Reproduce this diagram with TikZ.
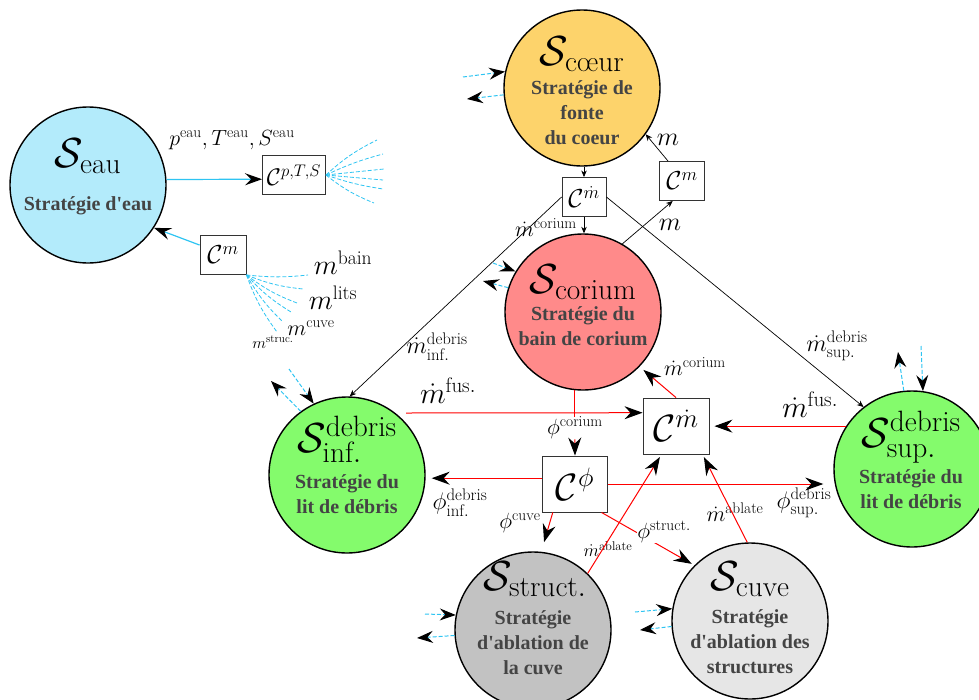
\RequirePackage{fix-cm}
\documentclass[tikz,border=0pt]{standalone}
\usepackage{amsmath}
\usepackage{fontspec}
\newfontfamily\stratfont{Liberation Serif}
\usetikzlibrary{arrows.meta}
\definecolor{ceau}{HTML}{B3EBFB}
\definecolor{ccoeur}{HTML}{FDD36B}
\definecolor{ccorium}{HTML}{FF8A8A}
\definecolor{cdeb}{HTML}{84FB6C}
\definecolor{cstruct}{HTML}{C2C2C2}
\definecolor{ccuve}{HTML}{E6E6E6}
\definecolor{stratgray}{HTML}{444444}
\definecolor{boxgray}{HTML}{333333}
\definecolor{cyanl}{HTML}{2EC4F2}
\newcommand\fsz[1]{\fontsize{#1}{#1}\selectfont}
\begin{document}
\begin{tikzpicture}[x=1pt,y=-1pt,
  strategy/.style={circle,draw=black,line width=1.4pt,minimum size=156pt,inner sep=0pt},
  title/.style={inner sep=0pt,anchor=base,font=\fsz{42}},
  strat/.style={inner sep=0pt,anchor=base,align=center,text=stratgray,font=\stratfont\bfseries\fontsize{20}{25}\selectfont},
  cbox/.style={draw=boxgray,line width=0.9pt,fill=white,inner sep=0pt},
  lab/.style={inner sep=1pt},
  redline/.style={draw=red,line width=1pt},
  redarrow/.style={draw=red,line width=1pt,-{Stealth[length=18pt,width=13pt,inset=6pt,black]}},
  thinarrow/.style={draw=black,line width=0.7pt,-{Stealth[length=6.5pt,width=5.5pt,inset=2pt]}},
  cyanio/.style={draw=cyanl,line width=1pt,dash pattern=on 4pt off 2pt,-{Stealth[length=16pt,width=12pt,inset=5.5pt,black]}},
  cyanfan/.style={draw=cyanl,line width=0.8pt,dash pattern=on 4pt off 2pt},
  cyansolid/.style={draw=cyanl,line width=1.2pt,-{Stealth[length=17pt,width=12pt,inset=6pt,black]}},
]
\useasboundingbox (0,0) rectangle (979,699);

% strategy circles
\node[strategy,fill=ceau] (eau) at (88,185) {};
\node[strategy,fill=ccoeur] (coeur) at (582,88) {};
\node[strategy,fill=ccorium] (corium) at (583,312) {};
\node[strategy,fill=cdeb] (dinf) at (347,475) {};
\node[strategy,fill=cdeb] (dsup) at (912,469) {};
\node[strategy,fill=cstruct] (struct) at (533,630) {};
\node[strategy,fill=ccuve] (cuve) at (750,621) {};

% titles
\node[title] (eauT) at (88,167) {$\mathcal{S}_{\mathrm{eau}}$};
\node[title] (coeurT) at (582,65) {$\mathcal{S}_{\text{c\oe ur}}$};
\node[title] (coriumT) at (583,293) {$\mathcal{S}_{\mathrm{corium}}$};
\node[title] (dinfT) at (347,452) {$\mathcal{S}^{\mathrm{debris}}_{\mathrm{inf.}}$};
\node[title] (dsupT) at (911,447) {$\mathcal{S}^{\mathrm{debris}}_{\mathrm{sup.}}$};
\node[title] (structT) at (535,590) {$\mathcal{S}_{\mathrm{struct.}}$};
\node[title] (cuveT) at (750,590) {$\mathcal{S}_{\mathrm{cuve}}$};

% strategy texts (anchor = baseline of last line)
\node[strat] (eauS) at (88,210) {Stratégie d'eau};
\node[strat] (coeurS) at (582,144) {Stratégie de\\fonte\\du coeur};
\node[strat] (coriumS) at (583,345) {Stratégie du\\bain de corium};
\node[strat] (dinfS) at (347,513) {Stratégie du\\lit de débris};
\node[strat] (dsupS) at (911,508) {Stratégie du\\lit de débris};
\node[strat] (structS) at (533,674) {Stratégie\\d'ablation de\\la cuve};
\node[strat] (cuveS) at (750,673) {Stratégie\\d'ablation des\\structures};

% boxes
\node[cbox,minimum width=63pt,minimum height=39pt] (cpts) at (294,175) {\fsz{24}$\mathcal{C}^{p,T,S}$};
\node[cbox,minimum width=46pt,minimum height=39pt] (cm1) at (223,255) {\fsz{26}$\mathcal{C}^{m}$};
\node[cbox,minimum width=44pt,minimum height=39pt] (cmt) at (584,197) {\fsz{26}$\mathcal{C}^{\dot m}$};
\node[cbox,minimum width=45pt,minimum height=39pt] (cm2) at (682,181) {\fsz{26}$\mathcal{C}^{m}$};
\node[cbox,minimum width=66pt,minimum height=56pt] (cbig) at (676,426) {\fsz{38}$\mathcal{C}^{\dot m}$};
\node[cbox,minimum width=65pt,minimum height=56pt] (cphi) at (575,484) {\fsz{38}$\mathcal{C}^{\phi}$};

% water connections
\draw[cyansolid] (eau.4.4) -- ([yshift=0.3pt]eau.4.4 -| cpts.west);
\draw[cyansolid] (cm1.157) -- (eau.-33);
\coordinate (fr1) at (377,140);
\coordinate (fr2) at (383,154);
\coordinate (fr3) at (384,169);
\coordinate (fr4) at (383,180);
\coordinate (fr5) at (383,189);
\coordinate (fr6) at (374,203);
\draw[cyanfan] (cpts.east) to[bend left=8] (fr1);
\draw[cyanfan] (cpts.east) to[bend left=5] (fr2);
\draw[cyanfan] (cpts.east) -- (fr3);
\draw[cyanfan] (cpts.east) -- (fr4);
\draw[cyanfan] (cpts.east) to[bend right=5] (fr5);
\draw[cyanfan] (cpts.east) to[bend right=8] (fr6);
\coordinate (fl1) at (308,275);
\coordinate (fl2) at (303,289);
\coordinate (fl3) at (297,303);
\coordinate (fl4) at (291,312);
\coordinate (fl5) at (283,322);
\coordinate (fl6) at (277,332);
\draw[cyanfan] (cm1.south east) to[bend right=6] (fl1);
\draw[cyanfan] (cm1.south east) to[bend right=8] (fl2);
\draw[cyanfan] (cm1.south east) to[bend right=8] (fl3);
\draw[cyanfan] (cm1.south east) to[bend right=8] (fl4);
\draw[cyanfan] (cm1.south east) to[bend right=8] (fl5);
\draw[cyanfan] (cm1.south east) to[bend right=8] (fl6);

% cyan in/out arrows
\coordinate (coeurIn) at (463,77);  \coordinate (coeurOut) at (467,99);
\coordinate (corIn) at (493,263);   \coordinate (corOut) at (483,281);
\coordinate (dinfIn) at (289,369);  \coordinate (dinfOut) at (271,381);
\coordinate (dsupIn) at (921,346);  \coordinate (dsupOut) at (898,352);
\coordinate (strIn) at (425,614);   \coordinate (strOut) at (417,638);
\coordinate (cuvIn) at (635,612);   \coordinate (cuvOut) at (640,630);
\draw[cyanio] (coeurIn) -- (coeur.168);
\draw[cyanio] (coeur.185) -- (coeurOut);
\draw[cyanio] (corIn) -- (corium.149);
\draw[cyanio] (corium.162) -- (corOut);
\draw[cyanio] (dinfIn) -- (dinf.115);
\draw[cyanio] (dinf.126) -- (dinfOut);
\draw[cyanio] (dsupIn) -- (dsup.82);
\draw[cyanio] (dsup.96) -- (dsupOut);
\draw[cyanio] (strIn) -- (struct.169);
\draw[cyanio] (struct.184) -- (strOut);
\draw[cyanio] (cuvIn) -- (cuve.171);
\draw[cyanio] (cuve.184) -- (cuvOut);

% black mass connections
\draw[thinarrow] (cmt.north |- coeur.south) -- (cmt.north);
\draw[thinarrow] (cmt.south) -- (cmt.south |- corium.north);
\draw[thinarrow] (cmt.west) -- (dinf.88);
\draw[thinarrow] (cmt.east) -- (dsup.128);
\draw[thinarrow] (cm2.125) -- (coeur.-36);
\draw[thinarrow] (corium.60) -- (cm2.-115);

% labels
\node[lab,font=\fsz{22}] (lpts) at (232,140) {$p^{\mathrm{eau}},T^{\mathrm{eau}},S^{\mathrm{eau}}$};
\node[lab,font=\fsz{28}] (lbain) at (343,263) {$m^{\mathrm{bain}}$};
\node[lab,font=\fsz{28}] (llits) at (333,298) {$m^{\mathrm{lits}}$};
\node[lab,font=\fsz{22}] (lcuve) at (311,328) {$m^{\mathrm{cuve}}$};
\node[lab,font=\fsz{16}] (lstruc) at (273,342) {$m^{\mathrm{struc.}}$};
\node[lab,font=\fsz{22}] (lmcor1) at (546,228) {$\dot m^{\mathrm{corium}}$};
\node[lab,font=\fsz{26}] (lm1) at (668,140) {$m$};
\node[lab,font=\fsz{26}] (lm2) at (670,225) {$m$};
\node[lab,font=\fsz{24}] (ldinf) at (437,347) {$\dot m^{\mathrm{debris}}_{\mathrm{inf.}}$};
\node[lab,font=\fsz{24}] (ldsup) at (837,346) {$\dot m^{\mathrm{debris}}_{\mathrm{sup.}}$};
\node[lab,font=\fsz{30}] (lfus1) at (448,391) {$\dot m^{\mathrm{fus.}}$};
\node[lab,font=\fsz{30}] (lfus2) at (810,405) {$\dot m^{\mathrm{fus.}}$};
\node[lab,font=\fsz{22}] (lmcor2) at (695,367) {$\dot m^{\mathrm{corium}}$};
\node[lab,font=\fsz{22},inner sep=0pt] (lphicor) at (575,428) {$\phi^{\mathrm{corium}}$};
\node[lab,font=\fsz{24}] (lphiinf) at (460,503) {$\phi^{\mathrm{debris}}_{\mathrm{inf.}}$};
\node[lab,font=\fsz{24}] (lphisup) at (804,503) {$\phi^{\mathrm{debris}}_{\mathrm{sup.}}$};
\node[lab,font=\fsz{22}] (lphicuve) at (520,523) {$\phi^{\mathrm{cuve}}$};
\node[lab,font=\fsz{18}] (labl1) at (608,549) {$\dot m^{\mathrm{ablate}}$};
\node[lab,font=\fsz{22}] (labl2) at (735,512) {$\dot m^{\mathrm{ablate}}$};

% red connections
\path (dinf) ++(59,-62) coordinate (fusA);
\draw[redarrow] (fusA) -- ([yshift=0.3pt]fusA -| cbig.west);
\draw[redarrow,shorten >=5pt] (dsup.147) -- (dsup.147 -| cbig.east);
\draw[redarrow,shorten >=5pt] (cbig.north) -- (corium.-44);
\draw[redline] (corium.-96) -- (corium.-96 |- lphicor.north);
\draw[redarrow] (corium.-96 |- lphicor.south) -- (cphi.north);
\draw[redarrow,shorten >=6pt] (cphi.170) -- (cphi.170 -| dinf.east);
\draw[redarrow,shorten >=10pt] (cphi.east) -- (cphi.east -| dsup.west);
\draw[redarrow,shorten >=10pt] (cphi.-128) -- (struct.84);
\draw[redarrow,shorten >=3pt] (cphi.-47) -- (cuve.135);
\draw[redarrow,shorten >=3pt] (struct.46) -- (cbig.-117);
\draw[redarrow,shorten >=3pt] (cuve.92) -- (cbig.-47);
\node[lab,font=\fsz{22},fill=white,inner sep=0pt] (lphistr) at (664,532) {$\phi^{\mathrm{struct.}}$};
\end{tikzpicture}
\end{document}
